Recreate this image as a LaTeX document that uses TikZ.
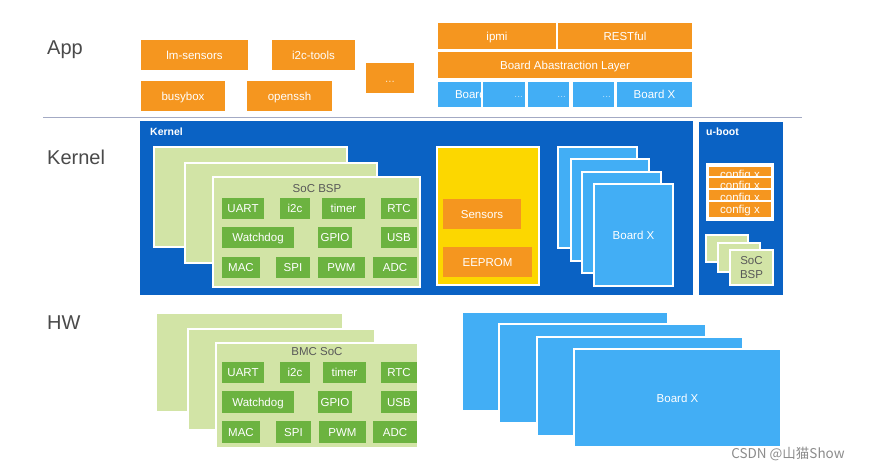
\documentclass[tikz,border=0pt]{standalone}
\usepackage{fontspec}
\setmainfont{Liberation Sans}
\newfontfamily\cjkfont{Noto Sans CJK SC}
\definecolor{orangeC}{HTML}{F5961F}
\definecolor{kblue}{HTML}{0A62C4}
\definecolor{lblue}{HTML}{42AEF5}
\definecolor{lgreen}{HTML}{D2E4A6}
\definecolor{cgreen}{HTML}{6CB340}
\definecolor{yel}{HTML}{FCD700}
\definecolor{sepline}{HTML}{A3AAC4}
\definecolor{labgray}{HTML}{4A4A4A}
\definecolor{titgray}{HTML}{595959}
\newcommand\mybox[7]{\node[#2, minimum width={(#5)-(#3)}, minimum height={(#6)-(#4)}] (#1) at ({((#3)+(#5))/2},{((#4)+(#6))/2}) {#7};}
\tikzset{
  base/.style={rectangle, inner sep=0pt, outer sep=0pt, font=\fontsize{11.5}{13}\selectfont, text=white},
  ctext/.style={text height=8.2pt, text depth=0pt},
  ob/.style={base, ctext, fill=orangeC},
  lb/.style={base, ctext, fill=lblue, draw=white, line width=1.5pt},
  gl/.style={base, fill=lgreen, draw=white, line width=1.5pt},
  chip/.style={base, ctext, fill=cgreen},
  kb/.style={base, fill=kblue},
  yb/.style={base, fill=yel, draw=white, line width=1.5pt},
  cfg/.style={base, ctext, fill=orangeC, draw=white, line width=1.5pt, font=\fontsize{11.5}{12}\selectfont},
  biglabel/.style={anchor=west, inner sep=0pt, font=\fontsize{20}{24}\selectfont, text=labgray},
  boxlabel/.style={anchor=west, inner sep=0pt, font=\bfseries\fontsize{10.5}{12}\selectfont, text=white},
  tit/.style={inner sep=0pt, font=\fontsize{11.5}{13}\selectfont, text=titgray},
  dots/.style={inner sep=0pt, font=\fontsize{10}{12}\selectfont, text=white, opacity=0.6}
}
\begin{document}
\begin{tikzpicture}[x=1pt,y=-1pt]
\useasboundingbox[fill=white] (0,0) rectangle (869,471);

% ---------- row labels ----------
\node[biglabel] (lapp) at (47,50) {App};
\node[biglabel] (lker) at (47,157) {Kernel};
\node[biglabel] (lhw) at (47,323) {HW};

% separator
\coordinate (sepL) at (43,117);
\coordinate (sepR) at (802,117);
\draw[sepline, line width=1pt] (sepL) -- (sepR);

% ---------- App ----------
\mybox{lms}{ob}{141}{40}{248}{70}{lm-sensors}
\mybox{i2ct}{ob}{272}{40}{355}{70}{i2c-tools}
\mybox{adots}{ob}{366}{63}{414}{93}{\textcolor{white!75!orangeC}{...}}
\mybox{bbox}{ob}{141}{81}{225}{111}{busybox}
\mybox{ossh}{ob}{247}{81}{332}{111}{openssh}

\mybox{ipmi}{ob}{438}{23}{556}{49}{ipmi}
\mybox{rest}{ob}{558}{23}{692}{49}{RESTful}
\mybox{bal}{ob}{438}{52}{692}{78}{Board Abastraction Layer}

\mybox{bd1}{lb}{437}{81}{500}{108}{}
\node[base, ctext, anchor=west] (bd1t) at (455,94.5) {Board};
\mybox{bd2}{lb}{482}{81}{526}{108}{}
\node[dots, anchor=east] (bd2t) at (523,97) {...};
\mybox{bd3}{lb}{527}{81}{570}{108}{}
\node[dots, anchor=east] (bd3t) at (566,97) {...};
\mybox{bd4}{lb}{572}{81}{615}{108}{}
\node[dots, anchor=east] (bd4t) at (611,97) {...};
\mybox{bdx}{lb}{616}{81}{693}{108}{Board X}

% ---------- Kernel ----------
\mybox{kern}{kb}{140}{121}{693}{295}{}
\node[boxlabel] (kernl) at (150,132) {Kernel};

\mybox{kg1}{gl}{154}{147}{347}{247}{}
\mybox{kg2}{gl}{185}{163}{377}{263}{}
\mybox{kg3}{gl}{213}{177}{420}{287}{}
\node[tit] (ksoc) at (317,189) {SoC BSP};

\mybox{kuart}{chip}{222}{198}{264}{219}{UART}
\mybox{ki2c}{chip}{280}{198}{310}{219}{i2c}
\mybox{ktimer}{chip}{322}{198}{365}{219}{timer}
\mybox{krtc}{chip}{381}{198}{417}{219}{RTC}
\mybox{kwd}{chip}{222}{227}{294}{248}{Watchdog}
\mybox{kgpio}{chip}{318}{227}{352}{248}{GPIO}
\mybox{kusb}{chip}{381}{227}{417}{248}{USB}
\mybox{kmac}{chip}{222}{257}{260}{278}{MAC}
\mybox{kspi}{chip}{276}{257}{310}{278}{SPI}
\mybox{kpwm}{chip}{318}{257}{365}{278}{PWM}
\mybox{kadc}{chip}{373}{257}{417}{278}{ADC}

\mybox{yel}{yb}{437}{147}{539}{285}{}
\mybox{sens}{ob}{443}{199}{521}{229}{Sensors}
\mybox{eep}{ob}{443}{247}{532}{277}{EEPROM}

\mybox{kb1}{lb}{558}{147}{637}{248}{}
\mybox{kb2}{lb}{571}{159}{649}{261}{}
\mybox{kb3}{lb}{582}{172}{661}{273}{}
\mybox{kb4}{lb}{594}{184}{673}{286}{Board X}

% ---------- u-boot ----------
\mybox{uboot}{kb}{699}{122}{783}{295}{}
\node[boxlabel] (ubootl) at (706,132) {u-boot};

\mybox{cfgbg}{base, fill=white}{706}{163}{774}{221}{}
\mybox{cfg1}{cfg}{708}{166}{772}{183}{config x}
\mybox{cfg2}{cfg}{708}{177}{772}{194}{config x}
\mybox{cfg3}{cfg}{708}{189}{772}{206}{config x}
\mybox{cfg4}{cfg}{708}{201}{772}{218}{config x}

\mybox{us1}{gl}{706}{235}{748}{262}{}
\mybox{us2}{gl}{718}{243}{760}{272}{}
\mybox{us3}{gl, text=titgray, align=center, font=\fontsize{11.5}{14}\selectfont}{730}{250}{773}{285}{SoC\\BSP}

% ---------- HW ----------
\mybox{hg1}{gl}{156}{313}{343}{412}{}
\mybox{hg2}{gl}{188}{329}{375}{430}{}
\mybox{hg3}{gl}{216}{343}{418}{448}{}
\node[tit] (hsoc) at (317,352) {BMC SoC};

\mybox{huart}{chip}{222}{362}{264}{383}{UART}
\mybox{hi2c}{chip}{280}{362}{310}{383}{i2c}
\mybox{htimer}{chip}{323}{362}{366}{383}{timer}
\mybox{hrtc}{chip}{381}{362}{417}{383}{RTC}
\mybox{hwd}{chip}{222}{391}{294}{413}{Watchdog}
\mybox{hgpio}{chip}{318}{391}{352}{413}{GPIO}
\mybox{husb}{chip}{381}{391}{417}{413}{USB}
\mybox{hmac}{chip}{222}{421}{260}{443}{MAC}
\mybox{hspi}{chip}{276}{421}{311}{443}{SPI}
\mybox{hpwm}{chip}{319}{421}{366}{443}{PWM}
\mybox{hadc}{chip}{373}{421}{417}{443}{ADC}

\mybox{hb1}{lb}{462}{312}{668}{411}{}
\mybox{hb2}{lb}{499}{324}{706}{423}{}
\mybox{hb3}{lb}{537}{337}{743}{436}{}
\mybox{hb4}{lb}{574}{349}{781}{447}{Board X}

% watermark
\node[inner sep=0pt, font=\cjkfont\fontsize{13.5}{15}\selectfont, text=black!45] (wm) at (788,454) {CSDN @山猫Show};
\end{tikzpicture}
\end{document}
